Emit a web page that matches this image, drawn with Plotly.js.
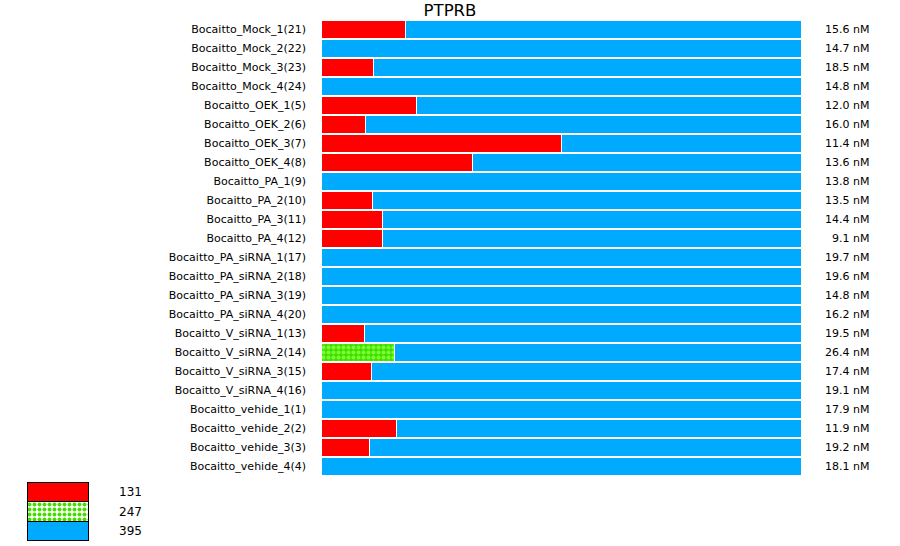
<!DOCTYPE html>
<html>
<head>
<meta charset="utf-8">
<script src="https://cdn.plot.ly/plotly-3.0.1.min.js"></script>
<style>html,body{margin:0;padding:0;background:#fff;}#chart{width:900px;height:546px;}</style>
</head>
<body>
<div id="chart"></div>
<script>
const samples = [
  "Bocaitto_Mock_1(21)","Bocaitto_Mock_2(22)","Bocaitto_Mock_3(23)","Bocaitto_Mock_4(24)",
  "Bocaitto_OEK_1(5)","Bocaitto_OEK_2(6)","Bocaitto_OEK_3(7)","Bocaitto_OEK_4(8)",
  "Bocaitto_PA_1(9)","Bocaitto_PA_2(10)","Bocaitto_PA_3(11)","Bocaitto_PA_4(12)",
  "Bocaitto_PA_siRNA_1(17)","Bocaitto_PA_siRNA_2(18)","Bocaitto_PA_siRNA_3(19)","Bocaitto_PA_siRNA_4(20)",
  "Bocaitto_V_siRNA_1(13)","Bocaitto_V_siRNA_2(14)","Bocaitto_V_siRNA_3(15)","Bocaitto_V_siRNA_4(16)",
  "Bocaitto_vehide_1(1)","Bocaitto_vehide_2(2)","Bocaitto_vehide_3(3)","Bocaitto_vehide_4(4)"
];
const concentrations = [
  "15.6 nM","14.7 nM","18.5 nM","14.8 nM",
  "12.0 nM","16.0 nM","11.4 nM","13.6 nM",
  "13.8 nM","13.5 nM","14.4 nM","9.1 nM",
  "19.7 nM","19.6 nM","14.8 nM","16.2 nM",
  "19.5 nM","26.4 nM","17.4 nM","19.1 nM",
  "17.9 nM","11.9 nM","19.2 nM","18.1 nM"
];
const seriesNames = ["131","247","395"];
const s131 = [0.177,0,0.110,0, 0.198,0.092,0.500,0.315, 0,0.108,0.129,0.129, 0,0,0,0, 0.090,0,0.106,0, 0,0.158,0.102,0];
const s247 = [0,0,0,0, 0,0,0,0, 0,0,0,0, 0,0,0,0, 0,0.154,0,0, 0,0,0,0];
const s395 = [0.823,1,0.890,1, 0.802,0.908,0.500,0.685, 1,0.892,0.871,0.871, 1,1,1,1, 0.910,0.846,0.896,1, 1,0.842,0.898,1];
const legendValues = [1, 1, 1];

const colors = ["#ff0000","#44dd00","#00aaff"];
const patternShapes = ["", ".", ""];
const font = "DejaVu Sans, Verdana, sans-serif";
const W = 900, H = 546;

const greenPattern = {shape: ".", bgcolor: "#44dd00", fgcolor: "#77ff33", size: 5, solidity: 0.5, fillmode: "replace"};
function barTrace(name, vals, color, pattern){
  const m = {color: color, line: {color: "#ffffff", width: 1}};
  if (pattern) m.pattern = pattern;
  return {type: "bar", orientation: "h", name: name, y: samples, x: vals,
          xaxis: "x", yaxis: "y", marker: m, hoverinfo: "none", showlegend: false};
}
const data = [
  barTrace(seriesNames[0], s131, colors[0]),
  barTrace(seriesNames[1], s247, colors[1], greenPattern),
  barTrace(seriesNames[2], s395, colors[2]),
  {type: "bar", orientation: "h", y: seriesNames, x: legendValues, width: [1, 1, 1],
   xaxis: "x2", yaxis: "y2",
   marker: {color: colors, line: {color: "#000", width: 1.5},
            pattern: {shape: patternShapes, bgcolor: colors, fgcolor: "#77ff33", size: 5, solidity: 0.5, fillmode: "replace"}},
   hoverinfo: "none", showlegend: false}
];

const annotations = samples.map((s, i) => ({
  xref: "paper", yref: "y", x: 871 / W, y: s, text: concentrations[i],
  showarrow: false, xanchor: "right", yanchor: "middle",
  font: {family: font, size: 11, color: "#000"}
}));

const layout = {
  width: W, height: H,
  margin: {l: 0, r: 0, t: 0, b: 0},
  barmode: "stack", bargap: 0.1,
  paper_bgcolor: "#fff", plot_bgcolor: "#fff",
  title: {text: "PTPRB", x: 0.5, xref: "container", xanchor: "center",
          y: 1 - 10 / H, yref: "container", yanchor: "middle",
          font: {family: font, size: 16.5, color: "#000"}},
  xaxis: {domain: [321 / W, 801 / W], range: [0, 1], visible: false, fixedrange: true},
  yaxis: {domain: [1 - 476 / H, 1 - 20 / H], type: "category", categoryorder: "array", categoryarray: samples,
          autorange: "reversed", showgrid: false, zeroline: false, showline: false,
          ticks: "", ticklabelstandoff: 14, automargin: false,
          tickfont: {family: font, size: 11, color: "#000"}},
  xaxis2: {domain: [27 / W, 89 / W], range: [0, 1], visible: false, anchor: "y2", fixedrange: true},
  yaxis2: {domain: [1 - 541 / H, 1 - 482 / H], anchor: "x2", side: "right", type: "category",
           categoryorder: "array", categoryarray: seriesNames, autorange: "reversed",
           showgrid: false, zeroline: false, showline: false, ticks: "", ticklabelstandoff: 29,
           automargin: false, tickfont: {family: font, size: 12, color: "#000"}},
  annotations: annotations,
  showlegend: false
};
Plotly.newPlot("chart", data, layout, {displayModeBar: false, staticPlot: true});
</script>
</body>
</html>
